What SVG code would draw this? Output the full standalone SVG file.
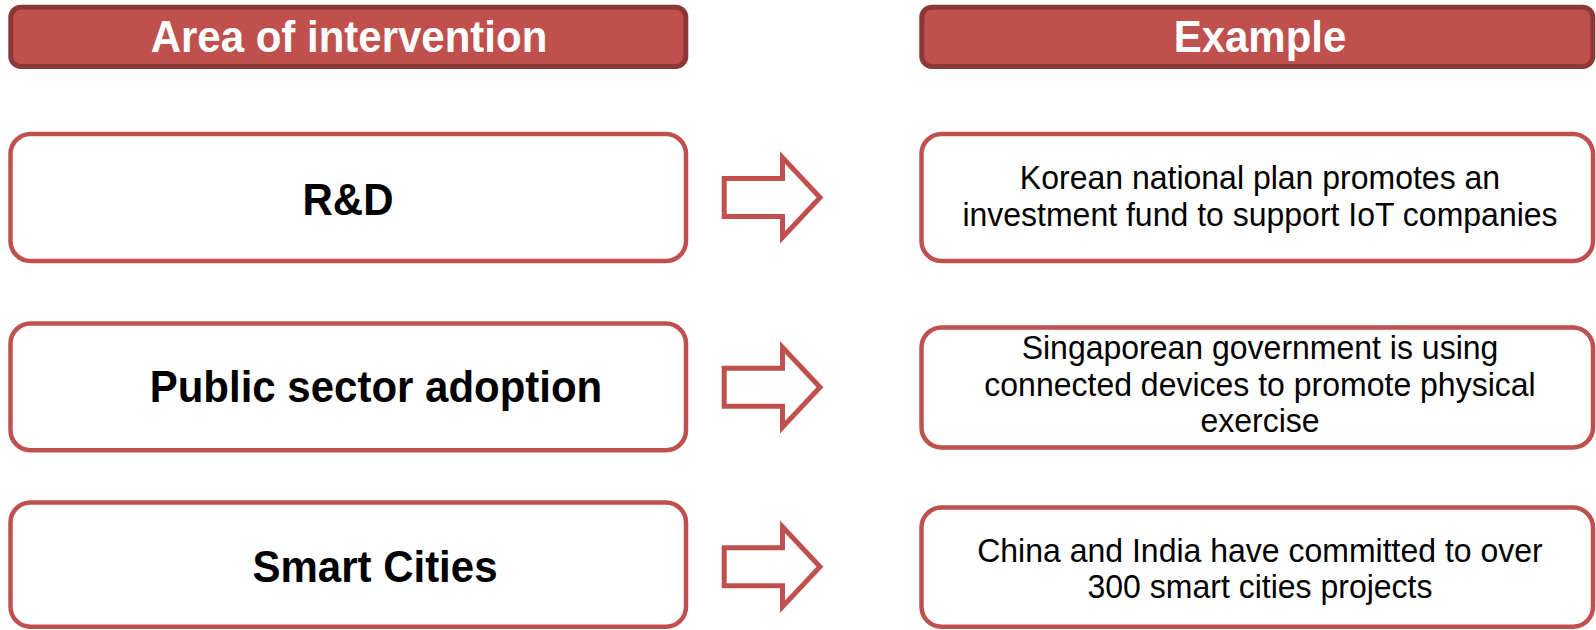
<svg xmlns="http://www.w3.org/2000/svg" xmlns:xlink="http://www.w3.org/1999/xlink" width="1596" height="630" viewBox="0 0 1596 630">
  <style>
    .hdr { fill: #C0504D; stroke: #8C3836; stroke-width: 5; }
    .box { fill: #FFFFFF; stroke: #C0504D; stroke-width: 4.5; }
    .arrow { fill: #FFFFFF; stroke: #C0504D; stroke-width: 5; stroke-linejoin: miter; }
    .hdr-text { font-family: "Liberation Sans", Arial, sans-serif; font-weight: bold; font-size: 42px; fill: #FFFFFF; text-anchor: middle; }
    .area-text { font-family: "Liberation Sans", Arial, sans-serif; font-weight: bold; font-size: 42px; fill: #000000; text-anchor: middle; }
    .ex-text { font-family: "Liberation Sans", Arial, sans-serif; font-size: 32px; fill: #000000; text-anchor: middle; }
  </style>
  <defs>
    <!-- block arrow, centred vertically on y=0 -->
    <path id="blockArrow" d="M724.2,-19 H782.5 V-40 L820,0 L782.5,40 V19 H724.2 Z"/>
  </defs>
  <rect width="1596" height="630" fill="#FFFFFF"/>

  <!-- column headers (text slightly stretched vertically about its baseline) -->
  <g id="header-area">
    <rect class="hdr" x="10.8" y="7.2" width="675" height="59.3" rx="10" ry="10"/>
    <text class="hdr-text" x="349" y="52" transform="matrix(1,0,0,1.06,0,-3.12)">Area of intervention</text>
  </g>
  <g id="header-example">
    <rect class="hdr" x="921.8" y="7.2" width="671" height="59.3" rx="10" ry="10"/>
    <text class="hdr-text" x="1260" y="52" transform="matrix(1,0,0,1.06,0,-3.12)">Example</text>
  </g>

  <!-- areas of intervention -->
  <g id="area-rd">
    <rect class="box" x="10.5" y="134" width="675.5" height="127" rx="20" ry="20"/>
    <text class="area-text" x="348" y="215" transform="matrix(1,0,0,1.06,0,-12.9)">R&amp;D</text>
  </g>
  <g id="area-public">
    <rect class="box" x="10.5" y="323.5" width="675.5" height="126.7" rx="20" ry="20"/>
    <text class="area-text" x="376" y="402" transform="matrix(1,0,0,1.06,0,-24.12)">Public sector adoption</text>
  </g>
  <g id="area-smart">
    <rect class="box" x="10.5" y="502.5" width="675.5" height="124.3" rx="20" ry="20"/>
    <text class="area-text" x="375" y="582" transform="matrix(1,0,0,1.06,0,-34.92)">Smart Cities</text>
  </g>

  <!-- examples -->
  <g id="example-korea">
    <rect class="box" x="921.5" y="134" width="671.5" height="127" rx="20" ry="20"/>
    <text class="ex-text" x="1260" y="189.5" transform="matrix(1,0,0,1.06,0,-11.37)">Korean national plan promotes an</text>
    <text class="ex-text" x="1260" y="226.5" transform="matrix(1,0,0,1.06,0,-13.59)">investment fund to support IoT companies</text>
  </g>
  <g id="example-singapore">
    <rect class="box" x="921.5" y="327.5" width="671.5" height="120" rx="20" ry="20"/>
    <text class="ex-text" x="1260" y="359" transform="matrix(1,0,0,1.06,0,-21.54)">Singaporean government is using</text>
    <text class="ex-text" x="1260" y="396" transform="matrix(1,0,0,1.06,0,-23.76)">connected devices to promote physical</text>
    <text class="ex-text" x="1260" y="432" transform="matrix(1,0,0,1.06,0,-25.92)">exercise</text>
  </g>
  <g id="example-china-india">
    <rect class="box" x="921.5" y="507.5" width="671.5" height="119.3" rx="20" ry="20"/>
    <text class="ex-text" x="1260" y="562" transform="matrix(1,0,0,1.06,0,-33.72)">China and India have committed to over</text>
    <text class="ex-text" x="1260" y="598" transform="matrix(1,0,0,1.06,0,-35.88)">300 smart cities projects</text>
  </g>

  <!-- connectors -->
  <g id="connectors">
    <use xlink:href="#blockArrow" class="arrow" transform="translate(0,197.5)"/>
    <use xlink:href="#blockArrow" class="arrow" transform="translate(0,387.3)"/>
    <use xlink:href="#blockArrow" class="arrow" transform="translate(0,566.7)"/>
  </g>
</svg>
